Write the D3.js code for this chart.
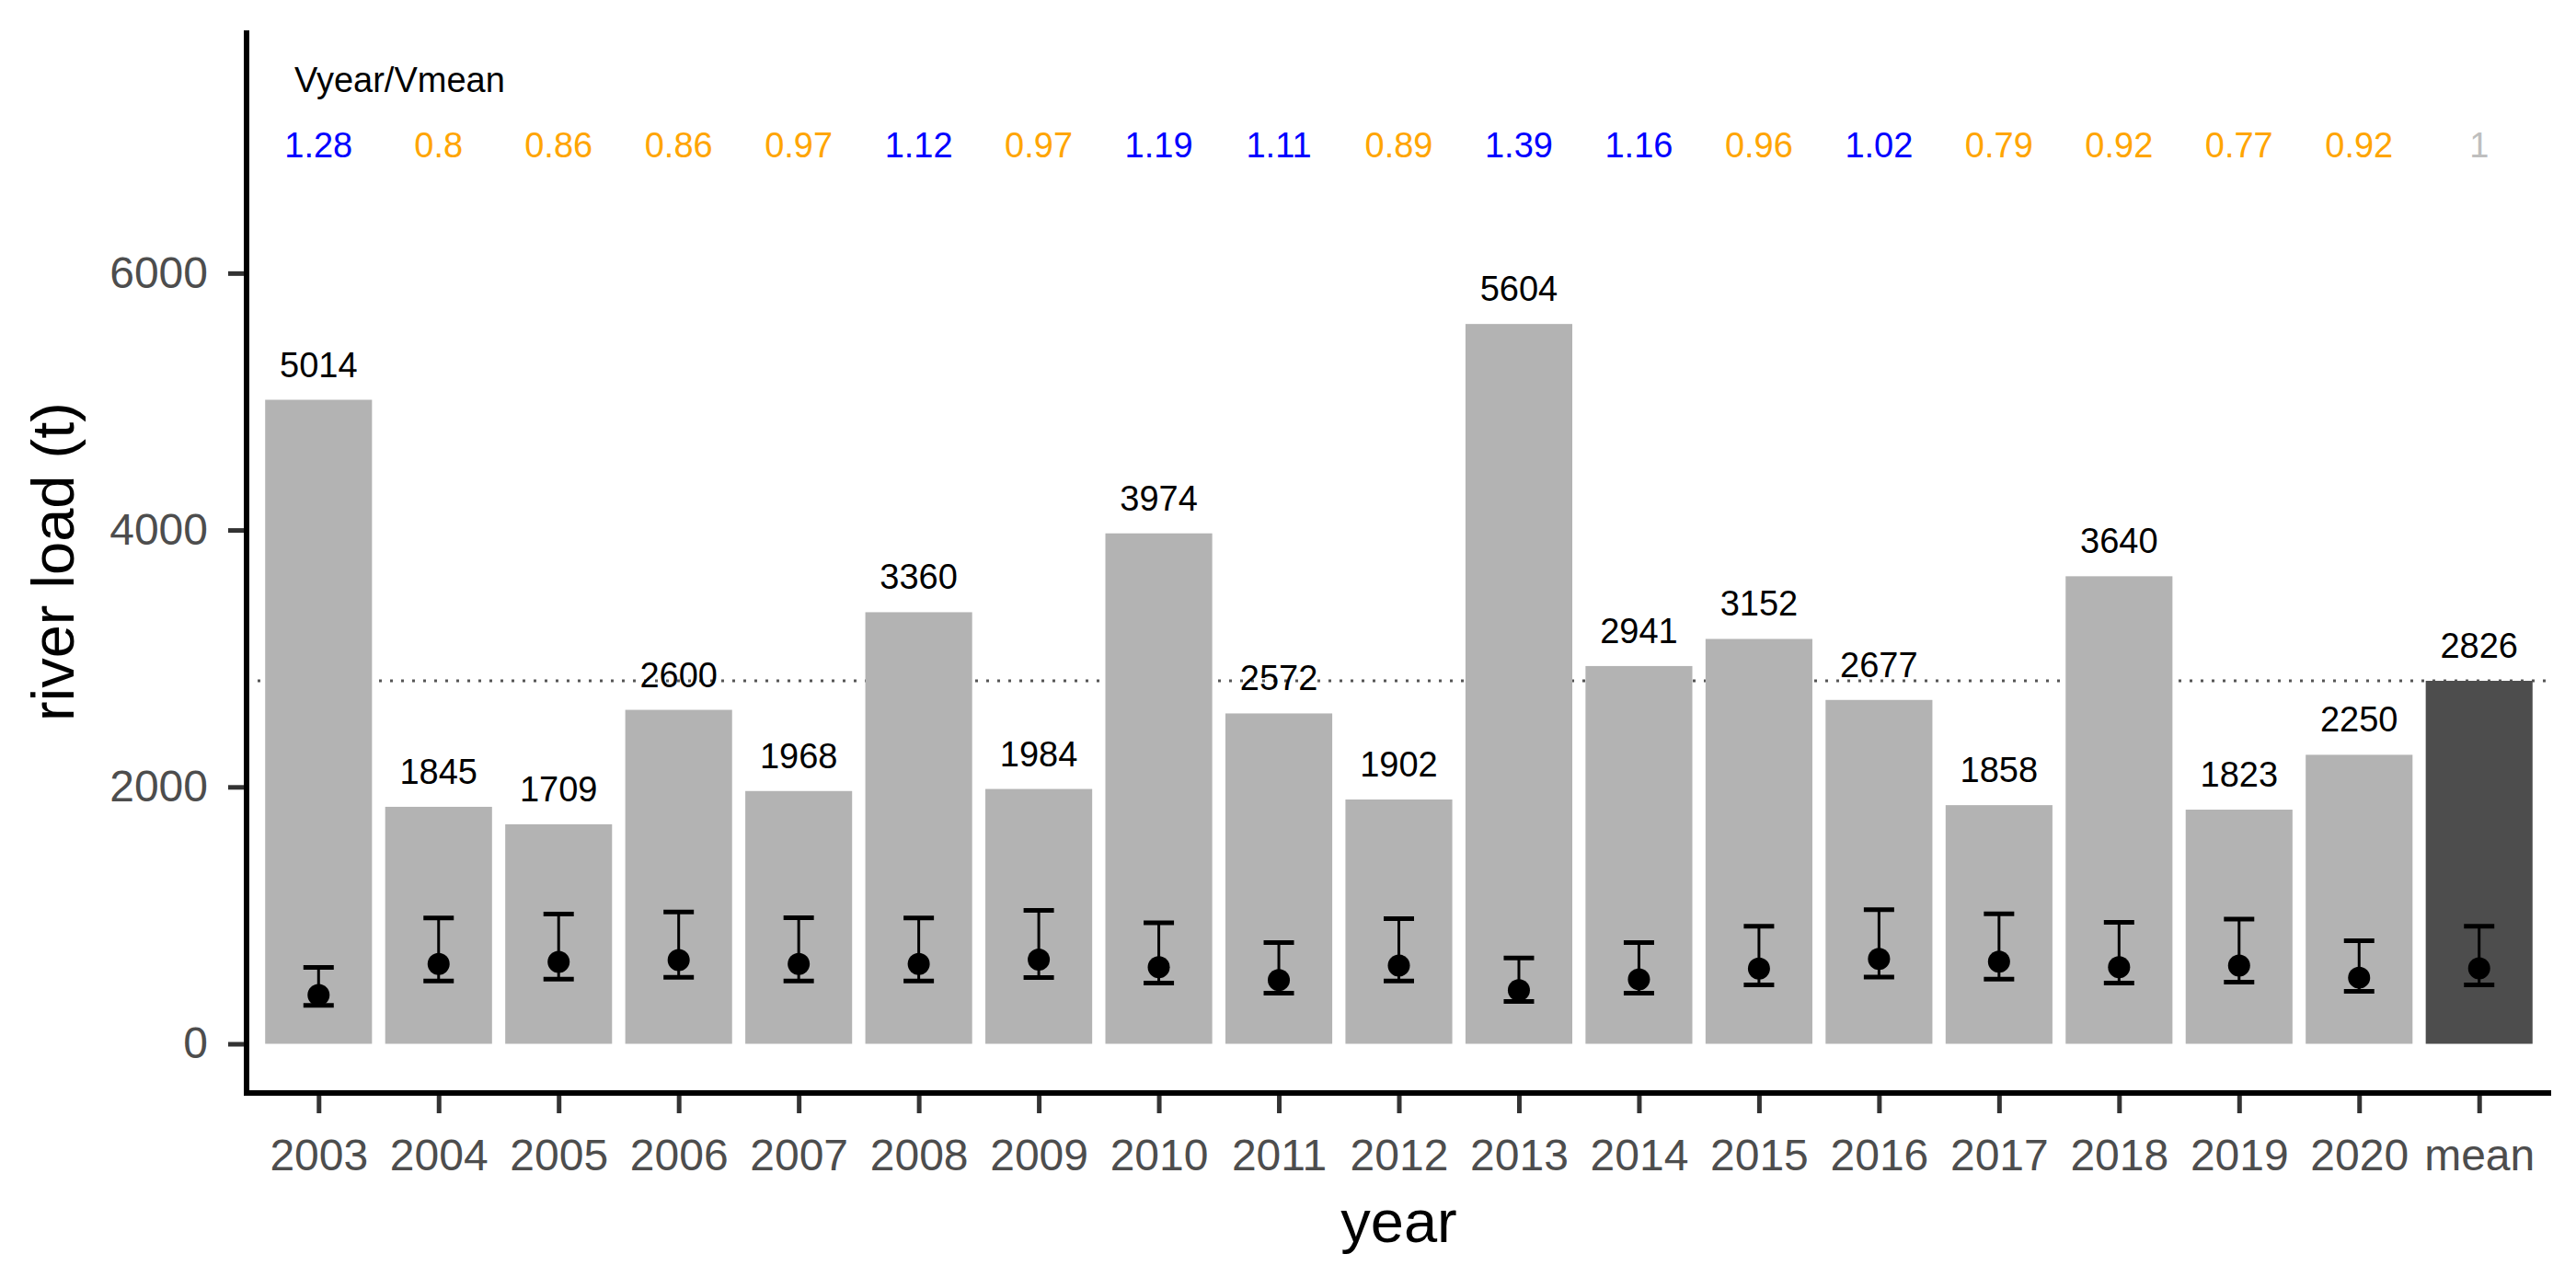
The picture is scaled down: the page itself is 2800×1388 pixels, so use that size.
<!DOCTYPE html>
<html>
<head>
<meta charset="utf-8">
<script src="https://cdn.jsdelivr.net/npm/d3@7"></script>
<style>
    html, body {margin: 0; padding: 0; background: #ffffff;}
    svg text {font-family: "Liberation Sans", Arial, sans-serif;}
</style>
</head>
<body>
<svg id="chart" width="2800" height="1388"></svg>
<script>
const years = ["2003", "2004", "2005", "2006", "2007", "2008", "2009", "2010", "2011", "2012",
    "2013", "2014", "2015", "2016", "2017", "2018", "2019", "2020", "mean"];
const loads = [5014, 1845, 1709, 2600, 1968, 3360, 1984, 3974, 2572, 1902,
    5604, 2941, 3152, 2677, 1858, 3640, 1823, 2250, 2826];
const ratios = [1.28, 0.8, 0.86, 0.86, 0.97, 1.12, 0.97, 1.19, 1.11, 0.89,
    1.39, 1.16, 0.96, 1.02, 0.79, 0.92, 0.77, 0.92, 1];
// point + error bar
const pointVals = [380, 621, 637, 652, 621, 621, 656, 597, 496, 609,
    418, 501, 585, 661, 640, 597, 609, 515, 587];
const errLow = [300, 489, 504, 518, 489, 489, 516, 473, 394, 489,
    329, 394, 458, 520, 504, 473, 480, 408, 458];
const errHigh = [594, 979, 1010, 1026, 981, 979, 1038, 943, 788, 974,
    668, 788, 916, 1045, 1012, 945, 971, 802, 916];
const yTicks = [0, 2000, 4000, 6000];
const meanLoad = 2826;

const panelLeft = 268, panelRight = 2773, panelTop = 33, panelBottom = 1188;

const data = years.map((yr, i) => ({
    year: yr, load: loads[i], ratio: ratios[i],
    mid: pointVals[i], lo: errLow[i], hi: errHigh[i]
}));

const svg = d3.select("#chart");

const x = d3.scalePoint()
    .domain(years)
    .range([panelLeft, panelRight])
    .padding(0.6);

const y = d3.scaleLinear()
    .domain([-383, 7890])
    .range([panelBottom, panelTop]);

const barW = x.step() * 0.89;

// mean reference line (behind bars)
svg.append("line")
    .attr("x1", panelLeft).attr("x2", panelRight)
    .attr("y1", y(meanLoad)).attr("y2", y(meanLoad))
    .attr("stroke", "#555555")
    .attr("stroke-width", 3)
    .attr("stroke-dasharray", "3,9");

svg.append("g")
    .selectAll("rect")
    .data(data)
    .join("rect")
    .attr("x", d => x(d.year) - barW / 2)
    .attr("width", barW)
    .attr("y", d => y(d.load))
    .attr("height", d => y(0) - y(d.load))
    .attr("fill", d => d.year === "mean" ? "#4d4d4d" : "#b3b3b3");

// value labels
svg.append("g")
    .selectAll("text")
    .data(data)
    .join("text")
    .attr("x", d => x(d.year))
    .attr("y", d => y(d.load) - 25)
    .attr("text-anchor", "middle")
    .style("font-size", "38px")
    .style("fill", "#000000")
    .text(d => d.load);

// error bars
const err = svg.append("g")
    .selectAll("g")
    .data(data)
    .join("g");

err.append("line")
    .attr("x1", d => x(d.year)).attr("x2", d => x(d.year))
    .attr("y1", d => y(d.lo)).attr("y2", d => y(d.hi))
    .attr("stroke", "#000").attr("stroke-width", 3);

err.selectAll("line.cap")
    .data(d => [d.lo, d.hi].map(v => ({year: d.year, v: v})))
    .join("line")
    .attr("class", "cap")
    .attr("x1", d => x(d.year) - 16.5).attr("x2", d => x(d.year) + 16.5)
    .attr("y1", d => y(d.v)).attr("y2", d => y(d.v))
    .attr("stroke", "#000").attr("stroke-width", 5);

err.append("circle")
    .attr("cx", d => x(d.year))
    .attr("cy", d => y(d.mid))
    .attr("r", 12)
    .attr("fill", "#000");

// Vyear/Vmean row
svg.append("text")
    .attr("x", 320)
    .attr("y", 100)
    .style("font-size", "38px")
    .style("fill", "#000")
    .text("Vyear/Vmean");

svg.append("g")
    .selectAll("text")
    .data(data)
    .join("text")
    .attr("x", d => x(d.year))
    .attr("y", 171)
    .attr("text-anchor", "middle")
    .style("font-size", "38px")
    .style("fill", d => {
        if (d.year === "mean") return "#bebebe";
        return d.ratio > 1 ? "#0000ff" : "#ffa500";
    })
    .text(d => d.ratio);

// axes
const yAxis = svg.append("g")
    .attr("transform", `translate(${panelLeft},0)`)
    .call(d3.axisLeft(y).tickValues(yTicks).tickSize(20).tickPadding(22).tickFormat(d3.format("d")));

const xAxis = svg.append("g")
    .attr("transform", `translate(0,${panelBottom})`)
    .call(d3.axisBottom(x).tickSize(22).tickPadding(28));

[yAxis, xAxis].forEach(ax => {
    ax.select(".domain").remove();
    ax.selectAll(".tick line").attr("stroke", "#333333").attr("stroke-width", 5);
    ax.selectAll(".tick text")
        .style("font-size", "48px")
        .style("font-family", "'Liberation Sans', Arial, sans-serif")
        .attr("fill", "#4d4d4d");
});

// axis lines
svg.append("line")
    .attr("x1", panelLeft).attr("x2", panelLeft)
    .attr("y1", panelTop).attr("y2", panelBottom + 3)
    .attr("stroke", "#000").attr("stroke-width", 6);

svg.append("line")
    .attr("x1", panelLeft - 3).attr("x2", panelRight)
    .attr("y1", panelBottom).attr("y2", panelBottom)
    .attr("stroke", "#000").attr("stroke-width", 6);

// axis titles
svg.append("text")
    .attr("x", (panelLeft + panelRight) / 2)
    .attr("y", 1350)
    .attr("text-anchor", "middle")
    .style("font-size", "65px")
    .text("year");

svg.append("text")
    .attr("transform", `translate(80,${(panelTop + panelBottom) / 2}) rotate(-90)`)
    .attr("text-anchor", "middle")
    .style("font-size", "65px")
    .text("river load (t)");
</script>
</body>
</html>
